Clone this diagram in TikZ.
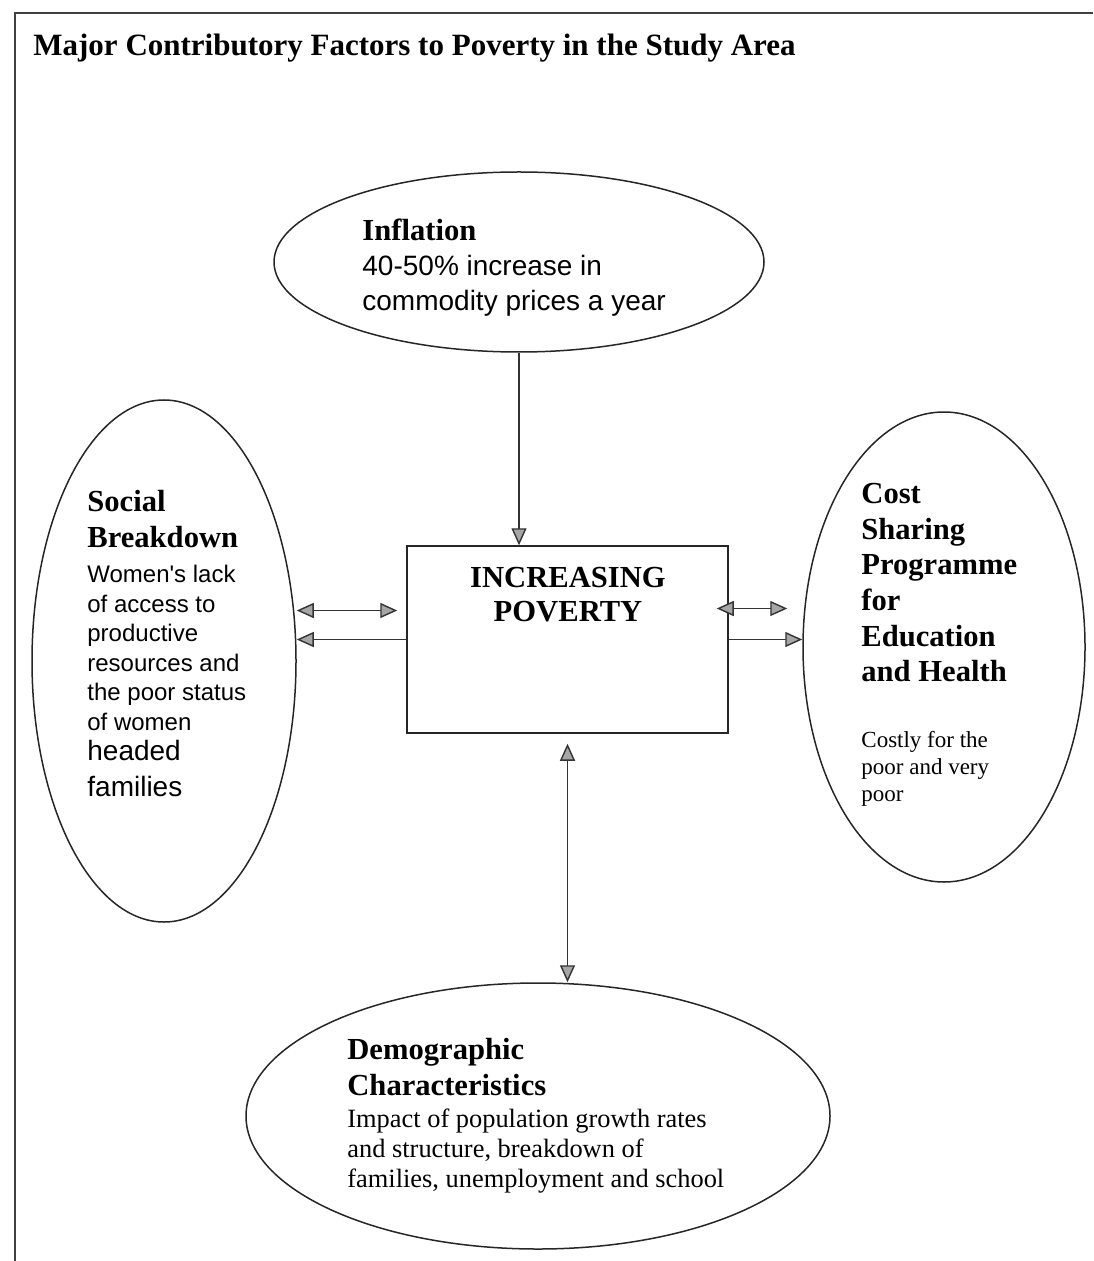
\documentclass[tikz,border=0pt]{standalone}
\usepackage{fontspec}
\setmainfont{Liberation Serif}
\newfontfamily\arialfont{Liberation Sans}
\usetikzlibrary{shapes.geometric,arrows.meta}
\begin{document}
\begin{tikzpicture}[x=0.5pt,y=-0.5pt,
    oval/.style={ellipse,draw=black!85,line width=0.75pt,inner sep=0pt},
    txt/.style={anchor=north west,inner sep=0pt,align=left},
    hd/.style={font=\fontsize{15.3}{17.8}\selectfont\bfseries},
    tip/.style={-{Triangle[length=8.5pt,width=7.5pt,fill=gray!70]},line width=0.7pt,draw=black!80},
    dbl/.style={{Triangle[length=8.5pt,width=7.5pt,fill=gray!70]}-{Triangle[length=8.5pt,width=7.5pt,fill=gray!70]},line width=0.7pt,draw=black!80}]
  \useasboundingbox (0,0) rectangle (1093,1261);
  \draw[line width=1pt,black!75] (1093,13) -- (15,13) -- (15,1261);
  \node[txt,font=\fontsize{15.5}{18}\selectfont\bfseries] (title) at (33,34) {Major Contributory Factors to Poverty in the Study Area};

  \node[oval,minimum width=245pt,minimum height=90pt] (infl) at (519,262) {};
  \node[oval,minimum width=132pt,minimum height=261pt] (social) at (164,661) {};
  \node[oval,minimum width=141pt,minimum height=235pt] (cost) at (944,647) {};
  \node[oval,minimum width=292pt,minimum height=133pt] (demo) at (538,1116) {};
  \node[draw=black!85,line width=0.75pt,minimum width=160.5pt,minimum height=93.5pt] (pov) at (567.5,639.5) {};

  \node[txt,hd] (infltitle) at (362,219) {Inflation};
  \node[txt,font=\arialfont\fontsize{14}{17.5}\selectfont] (infltext) at (362,255) {40-50\% increase in\\commodity prices a year};
  \node[txt,hd] (socialtitle) at (87,490) {Social\\Breakdown};
  \node[txt,font=\arialfont\fontsize{12}{14.75}\selectfont] (socialtext) at (87,565) {Women's lack\\of access to\\productive\\resources and\\the poor status\\of women};
  \node[txt,font=\arialfont\fontsize{14}{18}\selectfont] (socialmore) at (87,740) {headed\\families};
  \node[txt,hd] (costtitle) at (861,483) {Cost\\Sharing\\Programme\\for\\Education\\and Health};
  \node[txt,font=\fontsize{11.5}{13.5}\selectfont] (costtext) at (861,731) {Costly for the\\poor and very\\poor};
  \node[align=center,inner sep=0pt,font=\fontsize{15.3}{17}\selectfont\bfseries] (povtext) at (568,595) {INCREASING\\POVERTY};
  \node[txt,hd] (demotitle) at (347,1038) {Demographic\\Characteristics};
  \node[txt,font=\fontsize{13.2}{15}\selectfont] (demotext) at (347,1108) {Impact of population growth rates\\and structure, breakdown of\\families, unemployment and school};

  \coordinate (lA) at ([yshift=14.5pt]pov.west);
  \coordinate (rA) at ([yshift=15.5pt]pov.east);
  \draw[tip] (infl.south) -- (infl.south |- pov.north);
  \draw[dbl,shorten <=4.5pt] (lA) -- (lA -| social.east);
  \draw[tip] (pov.west) -- (pov.west -| social.east);
  \draw[dbl,shorten <=-6pt,shorten >=7.5pt] (rA) -- (rA -| cost.west);
  \draw[tip] (pov.east) -- (pov.east -| cost.west);
  \draw[dbl,shorten <=5pt] (pov.south) -- (pov.south |- demo.north);
\end{tikzpicture}
\end{document}
